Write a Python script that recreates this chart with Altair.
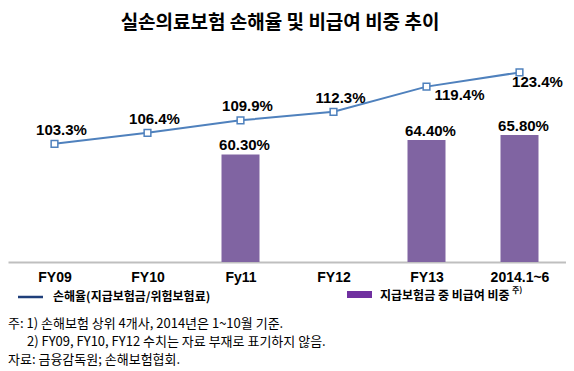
import altair as alt
import pandas as pd

# ---- data ----
categories = ["FY09", "FY10", "Fy11", "FY12", "FY13", "2014.1~6"]
loss_ratio = [103.3, 106.4, 109.9, 112.3, 119.4, 123.4]
bar_categories = ["Fy11", "FY13", "2014.1~6"]
nonpay_share = [60.30, 64.40, 65.80]

title_text = "실손의료보험 손해율 및 비급여 비중 추이"
legend_line_text = "손해율(지급보험금/위험보험료)"
legend_bar_text = "지급보험금 중 비급여 비중"
legend_bar_sup = "주)"
notes = [
    "주: 1) 손해보험 상위 4개사, 2014년은 1~10월 기준.",
    "2) FY09, FY10, FY12 수치는 자료 부재로 표기하지 않음.",
    "자료: 금융감독원; 손해보험협회.",
]

line_df = pd.DataFrame({"cat": categories, "v": loss_ratio,
                        "lbl": [f"{v:.1f}%" for v in loss_ratio]})
bar_df = pd.DataFrame({"cat": bar_categories, "v": nonpay_share,
                       "lbl": [f"{v:.2f}%" for v in nonpay_share]})

W, H = 558, 213
LABEL_FONT = "Liberation Sans"
KR_FONT = "Noto Sans CJK KR"

x_enc = alt.X(
    "cat:N",
    scale=alt.Scale(type="point", domain=categories, padding=0.5),
    axis=alt.Axis(title=None, labelAngle=0, ticks=False, grid=False,
                  domainColor="#bfbfbf", domainWidth=2,
                  labelFont=LABEL_FONT, labelFontWeight="bold",
                  labelFontSize=14, labelColor="#000000", labelPadding=8),
)
y_bar = alt.Y("v:Q", scale=alt.Scale(domain=[30, 90], zero=False), axis=None)
y_line = alt.Y("v:Q", scale=alt.Scale(domain=[70, 130], zero=False), axis=None)

bars = alt.Chart(bar_df).mark_bar(size=38, color="#8064A2").encode(
    x=x_enc, y=y_bar, y2=alt.datum(30))
bar_labels = alt.Chart(bar_df).mark_text(
    font=LABEL_FONT, fontWeight="bold", fontSize=15, color="#000000",
    dx=4, dy=-9, baseline="middle").encode(x=x_enc, y=y_bar, text="lbl:N")

line = alt.Chart(line_df).mark_line(
    color="#4F81BD", strokeWidth=2,
    point=alt.OverlayMarkDef(shape="square", filled=True, fill="white",
                             stroke="#4F81BD", strokeWidth=1.5, size=45),
).encode(x=x_enc, y=y_line)


def line_label(df, dx, dy):
    return alt.Chart(df).mark_text(
        font=LABEL_FONT, fontWeight="bold", fontSize=15, color="#000000",
        dx=dx, dy=dy, baseline="middle").encode(x=x_enc, y=y_line, text="lbl:N")


line_labels_up = line_label(line_df.iloc[:4], 7, -14)
line_labels_fy13 = line_label(line_df.iloc[4:5], 33, 8)
line_labels_last = line_label(line_df.iloc[5:6], 18, 10)


def txt(s, x, y, size, weight="normal", align="left", font=KR_FONT):
    return alt.Chart(pd.DataFrame({"t": [s]})).mark_text(
        font=font, fontSize=size, fontWeight=weight, align=align,
        baseline="middle", color="#000000").encode(
        x=alt.value(x), y=alt.value(y), text="t:N")


title = txt(title_text, 272, -26, 19, "bold", "center")

dummy = pd.DataFrame({"a": [0]})
leg_line = alt.Chart(dummy).mark_rule(color="#1F3F7A", strokeWidth=2.5).encode(
    x=alt.value(10), x2=alt.value(35), y=alt.value(248))
leg_line_t = txt(legend_line_text, 45, 248, 12, "bold")
leg_rect = alt.Chart(dummy).mark_rect(color="#7030A0").encode(
    x=alt.value(339), x2=alt.value(364), y=alt.value(242), y2=alt.value(249))
leg_rect_t = txt(legend_bar_text, 372, 247, 12, "bold")
leg_sup = txt(legend_bar_sup, 504, 242, 8, "bold")

note1 = txt(notes[0], 0, 275, 13)
note2 = txt(notes[1], 19, 293, 13)
note3 = txt(notes[2], 0, 311, 13)

chart = alt.layer(
    bars, bar_labels, line, line_labels_up, line_labels_fy13, line_labels_last,
    title, leg_line, leg_line_t, leg_rect, leg_rect_t, leg_sup,
    note1, note2, note3,
).resolve_scale(y="independent").properties(
    width=W, height=H,
    autosize=alt.AutoSizeParams(type="none"),
    padding={"left": 0, "top": 41, "right": 0, "bottom": 109},
    background="white",
).configure_view(stroke=None)

chart.save("out.html", embed_options={"renderer": "svg", "actions": False})
